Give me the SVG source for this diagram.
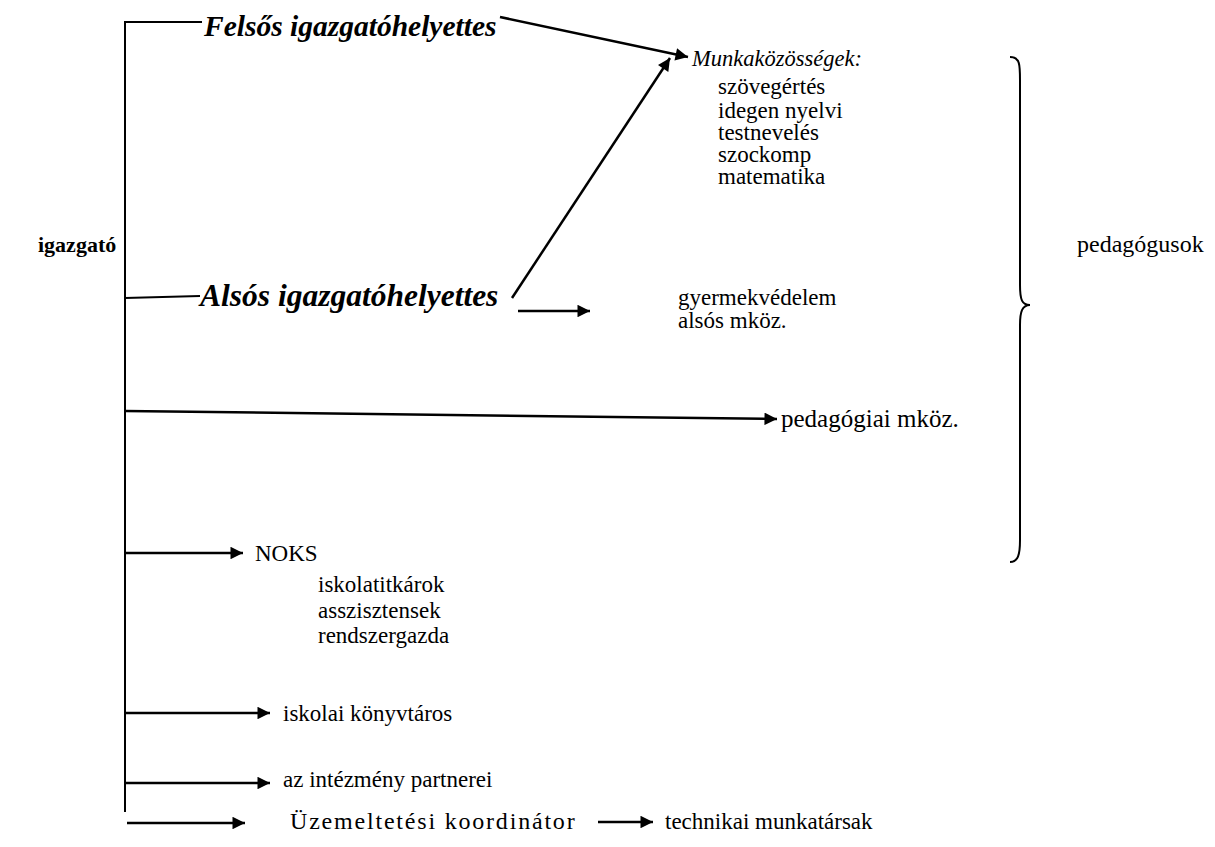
<svg xmlns="http://www.w3.org/2000/svg" width="1215" height="847" viewBox="0 0 1215 847">
<defs>
<marker id="ah" viewBox="0 0 10 10" refX="10" refY="5" markerWidth="6" markerHeight="5" markerUnits="strokeWidth" orient="auto">
<path d="M0,0 L10,5 L0,10 z" fill="#000"/>
</marker>
</defs>
<rect width="1215" height="847" fill="#fff"/>
<g id="connectors" stroke="#000" fill="none">
<path stroke-width="2" d="M125,812 V22 H202"/>
<path stroke-width="2" d="M125,298 L200,296"/>
<g stroke-width="2.5" marker-end="url(#ah)">
<path d="M500,17 L688,57"/>
<path d="M512,298 L670,58"/>
<path d="M518,311 L590,311"/>
<path d="M125,411 L777,419"/>
<path d="M125,553 L243,553"/>
<path d="M125,713 L270,713"/>
<path d="M125,783 L270,783"/>
<path d="M127,823 L245,823"/>
<path d="M598,822 L653,822"/>
</g>
</g>
<g id="igazgato"><text x="38" y="252" font-size="22" font-family="Tinos, Liberation Serif, Times New Roman, serif" font-style="normal" font-weight="bold">igazgató</text></g>
<g id="felsos"><text x="204" y="36" font-size="29.5" font-family="Liberation Serif" font-weight="bold" font-style="italic">Felsős igazgatóhelyettes</text></g>
<g id="also"><text x="200" y="306" font-size="31.5" font-family="Liberation Serif" font-weight="bold" font-style="italic">Alsós igazgatóhelyettes</text></g>
<g id="munkakozossegek">
<text x="692" y="66" font-size="22.5" font-family="Liberation Serif" font-style="italic">Munkaközösségek:</text>
<text x="718" y="94" font-size="23" font-family="Tinos, Liberation Serif, Times New Roman, serif" font-style="normal">szövegértés</text>
<text x="718" y="118" font-size="23" font-family="Tinos, Liberation Serif, Times New Roman, serif" font-style="normal">idegen nyelvi</text>
<text x="718" y="140" font-size="23" font-family="Tinos, Liberation Serif, Times New Roman, serif" font-style="normal">testnevelés</text>
<text x="718" y="162" font-size="23" font-family="Tinos, Liberation Serif, Times New Roman, serif" font-style="normal">szockomp</text>
<text x="718" y="184" font-size="23" font-family="Tinos, Liberation Serif, Times New Roman, serif" font-style="normal">matematika</text>
</g>
<g id="gyermekvedelem">
<text x="678" y="305" font-size="23" font-family="Tinos, Liberation Serif, Times New Roman, serif" font-style="normal">gyermekvédelem</text>
<text x="678" y="328" font-size="23" font-family="Tinos, Liberation Serif, Times New Roman, serif" font-style="normal">alsós mköz.</text>
</g>
<g id="pedmkoz"><text x="781" y="427" font-size="25" font-family="Tinos, Liberation Serif, Times New Roman, serif" font-style="normal">pedagógiai mköz.</text></g>
<g id="pedagogusok">
<path stroke="#000" stroke-width="2" fill="none" d="M1010,57 C1020,57 1020,65 1020,80 L1020,285 C1020,300 1022,305 1030,305 C1022,305 1020,312 1020,325 L1020,540 C1020,555 1018,562 1010,562"/>
<text x="1077" y="252" font-size="24" font-family="Tinos, Liberation Serif, Times New Roman, serif" font-style="normal">pedagógusok</text>
</g>
<g id="noks">
<text x="255" y="561" font-size="23" font-family="Tinos, Liberation Serif, Times New Roman, serif" font-style="normal">NOKS</text>
<text x="318" y="592" font-size="23" font-family="Tinos, Liberation Serif, Times New Roman, serif" font-style="normal">iskolatitkárok</text>
<text x="318" y="618" font-size="23" font-family="Tinos, Liberation Serif, Times New Roman, serif" font-style="normal">asszisztensek</text>
<text x="318" y="643" font-size="23" font-family="Tinos, Liberation Serif, Times New Roman, serif" font-style="normal">rendszergazda</text>
</g>
<g id="konyvtaros"><text x="283" y="721" font-size="23" font-family="Tinos, Liberation Serif, Times New Roman, serif" font-style="normal">iskolai könyvtáros</text></g>
<g id="partnerei"><text x="283" y="787" font-size="23" font-family="Tinos, Liberation Serif, Times New Roman, serif" font-style="normal">az intézmény partnerei</text></g>
<g id="uzemeltetesi"><text x="290" y="829" font-size="24" font-family="Tinos, Liberation Serif, Times New Roman, serif" font-style="normal" letter-spacing="1.8">Üzemeltetési koordinátor</text></g>
<g id="technikai"><text x="665" y="829" font-size="23" font-family="Tinos, Liberation Serif, Times New Roman, serif" font-style="normal">technikai munkatársak</text></g>
</svg>
